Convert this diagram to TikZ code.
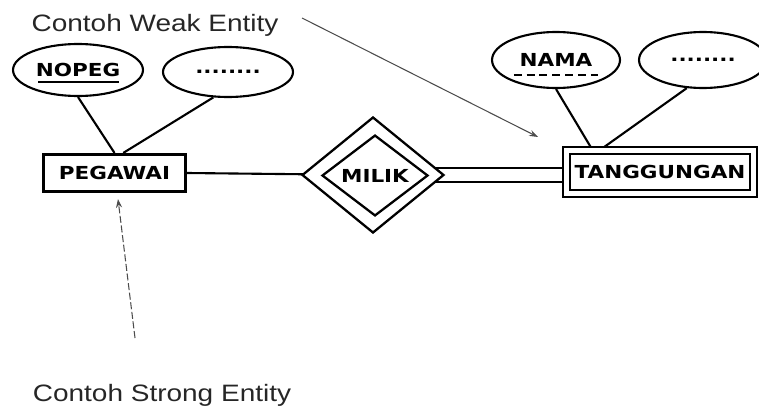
\documentclass[tikz,border=0pt]{standalone}
\usepackage{fontspec}
\newfontfamily\erfont{DejaVu Sans}[FakeStretch=1.2]
\newfontfamily\notefont{Liberation Sans}[FakeStretch=1.18]
\usetikzlibrary{shapes.geometric,arrows.meta,backgrounds}
\tikzset{
  erlabel/.style={font=\erfont\bfseries\fontsize{10.2}{12}\selectfont},
  entity/.style={draw,line width=1.8pt,fill=white,inner sep=0pt,erlabel},
  weakentity/.style={draw,double,line width=1.1pt,double distance=2.9pt,fill=white,inner sep=0pt,erlabel},
  attrib/.style={draw,ellipse,line width=1.2pt,fill=white,inner sep=0pt,erlabel},
  relation/.style={draw,diamond,line width=1.3pt,fill=white,inner sep=0pt,erlabel},
  link/.style={line width=1.2pt},
  note/.style={font=\notefont\fontsize{13.5}{16}\selectfont,text=black!85},
  pointer/.style={gray!60!black,line width=0.6pt,-{Stealth[length=5pt,width=3.5pt]}}
}
\begin{document}
\begin{tikzpicture}[x=0.02cm,y=-0.02cm]
        \useasboundingbox (0,0) rectangle (759,412);
        %% notes
        \node[note] (weaknote) at (155,25) {Contoh Weak Entity};
        \node[note] (strongnote) at (162,395) {Contoh Strong Entity};
        %% entities
        \node[entity,minimum width=2.84cm,minimum height=0.74cm] (pegawai) at (114.5,173) {PEGAWAI};
        \node[weakentity,minimum width=3.74cm,minimum height=0.85cm] (tanggungan) at (660,172) {TANGGUNGAN};
        %% relation
        \node[relation,minimum width=2.84cm,minimum height=2.32cm] (milikout) at (373,175) {};
        \node[relation,minimum width=2.12cm,minimum height=1.44cm] (milik) at (375,175.5) {MILIK};
        %% attributes
        \node[attrib,minimum width=2.6cm,minimum height=1.04cm] (nopeg) at (78,70) {NOPEG};
        \node[attrib,minimum width=2.6cm,minimum height=1.0cm] (pegmore) at (228,72) {........};
        \node[attrib,minimum width=2.56cm,minimum height=1.12cm] (nama) at (556,60) {NAMA};
        \node[attrib,minimum width=2.56cm,minimum height=1.12cm] (tangmore) at (703,60) {........};
        %% keys
        \draw[line width=1.1pt] ([shift={(-22.5pt,-6.8pt)}]nopeg.center) -- ([shift={(23.5pt,-6.8pt)}]nopeg.center);
        \draw[line width=1pt,dash pattern=on 4.5pt off 2.8pt] ([shift={(-24pt,-8.5pt)}]nama.center) -- ([shift={(24pt,-8.5pt)}]nama.center);
        %% links
        \begin{scope}[on background layer]
        \draw[link] (nopeg.south) -- (pegawai.north);
        \draw[link] (pegmore.-120) -- ([xshift=5pt]pegawai.north);
        \draw[link] (nama.south) -- ([xshift=-38.5pt]tanggungan.north);
        \draw[link] (tangmore.-120) -- ([xshift=-34pt]tanggungan.north);
        \draw[link] (pegawai.east) -- (milikout.center);
        \draw[link,double,double distance=6.8pt,line width=1.1pt] (milikout.center) -- (milikout.center -| tanggungan.center);
        \end{scope}
        %% pointers
        \coordinate (weakfrom) at (302,18);
        \coordinate (weakto) at (538,137);
        \coordinate (strongfrom) at (135,338);
        \coordinate (strongto) at (118,199);
        \draw[pointer] (weakfrom) -- (weakto);
        \draw[pointer,dash pattern=on 4pt off 1.5pt] (strongfrom) -- (strongto);
    \end{tikzpicture}
\end{document}
